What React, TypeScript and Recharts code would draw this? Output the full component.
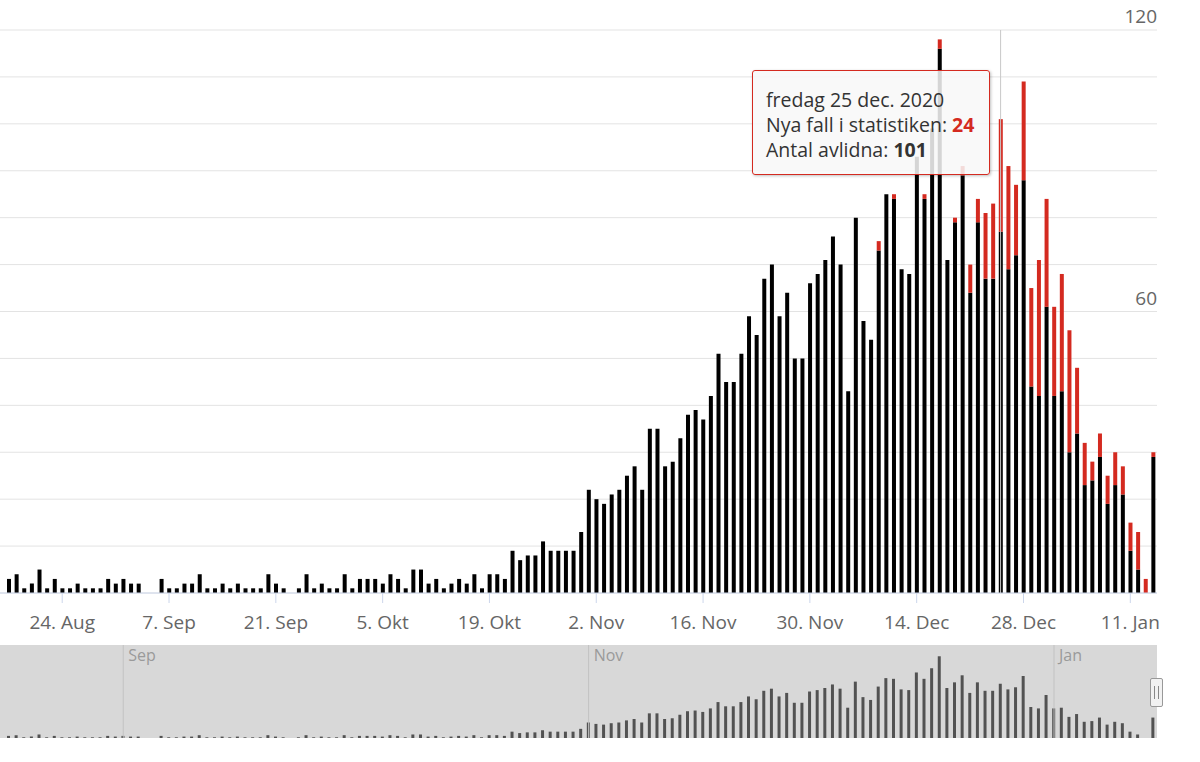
import { BarChart, Bar, XAxis, YAxis, CartesianGrid, Tooltip, ReferenceLine } from 'recharts'

const FONT = '"Open Sans", sans-serif'
const BLACK = '#000000'
const RED = '#d42a20'

// one bar per day, starting Monday 17 Aug 2020
const START_DAY = Date.UTC(2020, 7, 17)
const MONTHS = ['Jan', 'Feb', 'Mar', 'Apr', 'Maj', 'Jun', 'Jul', 'Aug', 'Sep', 'Okt', 'Nov', 'Dec']
const MONTHS_LONG = ['jan.', 'feb.', 'mars', 'apr.', 'maj', 'juni', 'juli', 'aug.', 'sep.', 'okt.', 'nov.', 'dec.']
const WEEKDAYS = ['söndag', 'måndag', 'tisdag', 'onsdag', 'torsdag', 'fredag', 'lördag']

// deaths already in the statistics (black), one row per week
const earlier = [
  3, 4, 1, 2, 5, 1, 3,
  1, 1, 2, 1, 1, 1, 3,
  2, 3, 2, 2, 0, 0, 3,
  1, 1, 2, 2, 4, 1, 1,
  2, 1, 2, 1, 1, 1, 4,
  2, 1, 0, 1, 4, 1, 2,
  1, 1, 4, 1, 3, 3, 3,
  2, 4, 3, 1, 5, 5, 2,
  3, 1, 2, 3, 2, 4, 1,
  4, 4, 3, 9, 7, 8, 8,
  11, 9, 9, 9, 9, 13, 22,
  20, 19, 21, 22, 25, 27, 22,
  35, 35, 27, 28, 33, 38, 39,
  37, 42, 51, 45, 45, 51, 59,
  55, 67, 70, 59, 64, 50, 50,
  66, 68, 71, 76, 70, 43, 80,
  58, 54, 73, 85, 84, 69, 68,
  93, 84, 99, 116, 71, 79, 89,
  64, 79, 67, 67, 77, 69, 72,
  88, 44, 42, 61, 42, 43, 30,
  34, 23, 24, 29, 19, 23, 21,
  9, 5, 0, 29,
]

// "Nya fall i statistiken" (red)
const fresh = [
  0, 0, 0, 0, 0, 0, 0,
  0, 0, 0, 0, 0, 0, 0,
  0, 0, 0, 0, 0, 0, 0,
  0, 0, 0, 0, 0, 0, 0,
  0, 0, 0, 0, 0, 0, 0,
  0, 0, 0, 0, 0, 0, 0,
  0, 0, 0, 0, 0, 0, 0,
  0, 0, 0, 0, 0, 0, 0,
  0, 0, 0, 0, 0, 0, 0,
  0, 0, 0, 0, 0, 0, 0,
  0, 0, 0, 0, 0, 0, 0,
  0, 0, 0, 0, 0, 0, 0,
  0, 0, 0, 0, 0, 0, 0,
  0, 0, 0, 0, 0, 0, 0,
  0, 0, 0, 0, 0, 0, 0,
  0, 0, 0, 0, 0, 0, 0,
  0, 0, 2, 0, 1, 0, 0,
  0, 1, 0, 2, 0, 1, 2,
  6, 5, 14, 16, 24, 22, 15,
  21, 21, 29, 23, 19, 25, 26,
  14, 9, 4, 5, 6, 7, 6,
  6, 8, 3, 1,
]

const xTicks = ['24. Aug', '7. Sep', '21. Sep', '5. Okt', '19. Okt', '2. Nov', '16. Nov', '30. Nov', '14. Dec', '28. Dec', '11. Jan']
const yGrid = [0, 10, 20, 30, 40, 50, 60, 70, 80, 90, 100, 110, 120]
const yLabels = [60, 120]
const navMonths = [
  { day: '1. Sep', name: 'Sep' },
  { day: '1. Nov', name: 'Nov' },
  { day: '1. Jan', name: 'Jan' },
]
const ACTIVE_DAY = '25. Dec'

const rows = earlier.map((e, i) => {
  const d = new Date(START_DAY + i * 86400000)
  return {
    label: `${d.getUTCDate()}. ${MONTHS[d.getUTCMonth()]}`,
    full: `${WEEKDAYS[d.getUTCDay()]} ${d.getUTCDate()} ${MONTHS_LONG[d.getUTCMonth()]} ${d.getUTCFullYear()}`,
    earlier: e,
    fresh: fresh[i],
  }
})
const activeIndex = rows.findIndex(r => r.label === ACTIVE_DAY)

// only 60 and 120 get a label, sitting right-aligned just above the grid line
function RightTick(props: any) {
  const { x, y, payload } = props
  if (!yLabels.includes(Number(payload.value))) return <g />
  return (
    <text x={x} y={y - 7} textAnchor="end" fill="#666666" fontSize={19} fontFamily={FONT}>
      {payload.value}
    </text>
  )
}

function TipContent({ payload }: any) {
  if (!payload || !payload.length) return null
  const row = payload[0].payload
  return (
    <div
      style={{
        boxSizing: 'border-box', width: 238, height: 105,
        background: 'rgba(248,248,248,0.86)', border: `1.5px solid ${RED}`, borderRadius: 3,
        boxShadow: '1px 1px 3px rgba(0,0,0,0.25)', padding: '16px 0 0 13px',
        color: '#333333', fontSize: 19.5, lineHeight: '25px', fontFamily: FONT, whiteSpace: 'nowrap',
      }}
    >
      <div>{row.full}</div>
      <div>Nya fall i statistiken: <b style={{ color: RED }}>{row.fresh}</b></div>
      <div>Antal avlidna: <b>{row.earlier + row.fresh}</b></div>
    </div>
  )
}

export default function App() {
  return (
    <div style={{ position: 'absolute', left: 0, top: 0, width: 1200, height: 762, background: '#fff', fontFamily: FONT }}>
      <BarChart width={1200} height={645} data={rows} margin={{ top: 30, right: 0, left: 0, bottom: 0 }} barCategoryGap={0}>
        <CartesianGrid vertical={false} stroke="#e3e3e3" />
        <XAxis
          dataKey="label" ticks={xTicks} interval={0} height={52}
          tickSize={10} tickMargin={13} padding={{ left: 5, right: 0 }}
          axisLine={{ stroke: '#ccd6eb' }} tickLine={{ stroke: '#ccd6eb' }}
          tick={{ fill: '#666666', fontSize: 19, fontFamily: FONT }}
        />
        <YAxis
          yAxisId={0} orientation="right" width={43} domain={[0, 120]} ticks={yGrid} interval={0}
          axisLine={false} tickLine={false} tickSize={0} tickMargin={0} tick={RightTick}
        />
        <ReferenceLine x={ACTIVE_DAY} stroke="#c8c8c8" />
        <Bar dataKey="earlier" stackId="d" fill={BLACK} barSize={4} isAnimationActive={false} />
        <Bar dataKey="fresh" stackId="d" fill={RED} barSize={4} isAnimationActive={false} />
        <Tooltip
          active defaultIndex={activeIndex} position={{ x: 752, y: 70 }}
          cursor={false} isAnimationActive={false} content={<TipContent />}
        />
      </BarChart>

      <div style={{ position: 'absolute', left: 0, top: 645, width: 1157, height: 93, background: '#d8d8d8' }} />
      <div style={{ position: 'absolute', left: 0, top: 645 }}>
        <BarChart width={1200} height={93} data={rows} margin={{ top: 0, right: 43, left: 0, bottom: 0 }} barCategoryGap={0}>
          <XAxis dataKey="label" hide padding={{ left: 5, right: 0 }} />
          <YAxis hide domain={[0, 132]} />
          {navMonths.map(m => (
            <ReferenceLine
              key={m.day} x={m.day} stroke="#c2c2c2"
              label={{ value: m.name, position: 'insideTopLeft', fill: '#9a9a9a', fontSize: 16, fontFamily: FONT }}
            />
          ))}
          <Bar dataKey="earlier" fill="#525252" barSize={3} isAnimationActive={false} />
        </BarChart>
      </div>
      <div
        style={{
          position: 'absolute', left: 1150, top: 678, width: 13, height: 29, boxSizing: 'border-box',
          background: '#f2f2f2', border: '1px solid #999', borderRadius: 2,
        }}
      >
        <div style={{ position: 'absolute', left: 3, top: 7, width: 1, height: 13, background: '#888' }} />
        <div style={{ position: 'absolute', left: 7, top: 7, width: 1, height: 13, background: '#888' }} />
      </div>
    </div>
  )
}
